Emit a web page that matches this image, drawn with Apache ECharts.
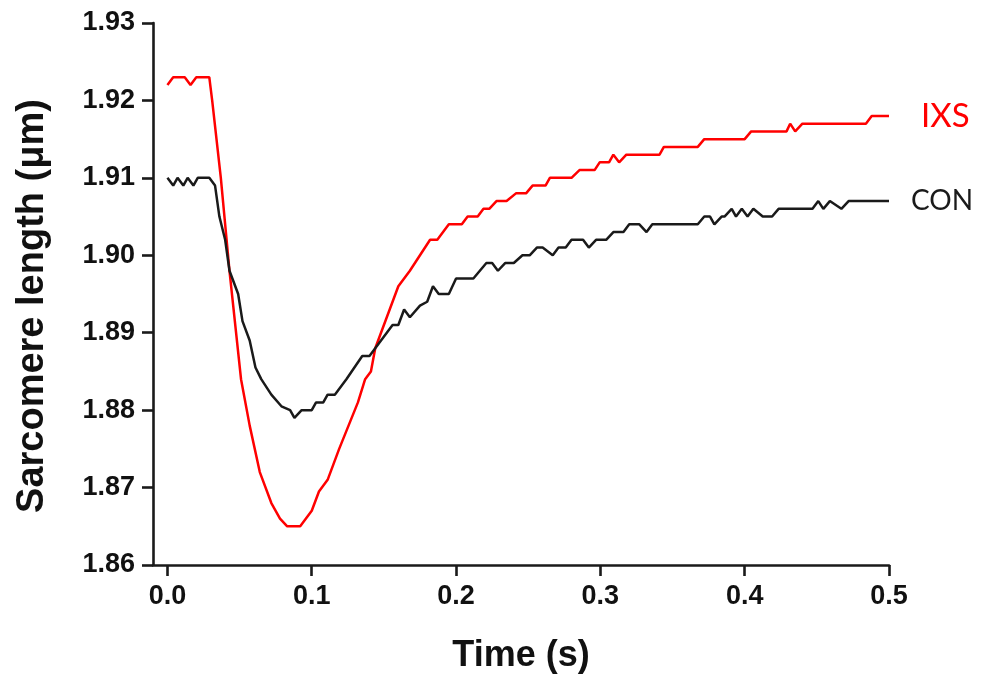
<!DOCTYPE html>
<html>
<head>
<meta charset="utf-8">
<script src="https://cdn.jsdelivr.net/npm/echarts@6/dist/echarts.min.js"></script>
<style>
html,body{margin:0;padding:0;background:#fff;}
#chart{width:984px;height:679px;}
</style>
</head>
<body>
<div id="chart"></div>
<script>
// ---- data ----
const xTicks = [0.0, 0.1, 0.2, 0.3, 0.4, 0.5];
const yTicks = [1.86, 1.87, 1.88, 1.89, 1.90, 1.91, 1.92, 1.93];

const ixsName = 'IXS';
const ixsTime = [0.000,0.004,0.012,0.016,0.020,0.029,0.031,0.037,0.043,0.051,0.057,0.064,0.072,0.078,0.083,0.092,0.100,0.105,0.111,0.119,0.132,0.137,0.141,0.144,0.160,0.168,0.182,0.187,0.195,0.204,0.208,0.215,0.219,0.223,0.228,0.235,0.2415,0.2485,0.253,0.262,0.265,0.280,0.2855,0.296,0.2995,0.306,0.309,0.313,0.318,0.341,0.344,0.3675,0.372,0.400,0.4045,0.429,0.4315,0.435,0.440,0.484,0.488,0.500];
const ixsValue = [1.922,1.923,1.923,1.922,1.923,1.923,1.920,1.910,1.898,1.884,1.878,1.872,1.868,1.866,1.865,1.865,1.867,1.8695,1.871,1.875,1.881,1.884,1.885,1.888,1.896,1.898,1.902,1.902,1.904,1.904,1.905,1.905,1.906,1.906,1.907,1.907,1.908,1.908,1.909,1.909,1.910,1.910,1.911,1.911,1.912,1.912,1.913,1.912,1.913,1.913,1.914,1.914,1.915,1.915,1.916,1.916,1.917,1.916,1.917,1.917,1.918,1.918];

const conName = 'CON';
const conTime = [0.000,0.004,0.007,0.011,0.014,0.018,0.021,0.026,0.029,0.033,0.036,0.040,0.043,0.045,0.049,0.052,0.057,0.061,0.065,0.072,0.079,0.085,0.088,0.093,0.100,0.103,0.108,0.111,0.116,0.124,0.135,0.140,0.156,0.160,0.164,0.168,0.175,0.180,0.184,0.188,0.195,0.200,0.212,0.221,0.225,0.229,0.234,0.240,0.246,0.251,0.256,0.260,0.267,0.271,0.276,0.280,0.288,0.292,0.297,0.304,0.309,0.316,0.320,0.327,0.332,0.336,0.3675,0.372,0.376,0.379,0.384,0.386,0.391,0.394,0.398,0.402,0.406,0.4125,0.419,0.4235,0.447,0.451,0.4545,0.459,0.467,0.472,0.500];
const conValue = [1.910,1.909,1.910,1.909,1.910,1.909,1.910,1.910,1.910,1.909,1.905,1.902,1.898,1.897,1.895,1.8915,1.889,1.8855,1.884,1.882,1.8805,1.880,1.879,1.880,1.880,1.881,1.881,1.882,1.882,1.884,1.887,1.887,1.891,1.891,1.893,1.892,1.8935,1.894,1.896,1.895,1.895,1.897,1.897,1.899,1.899,1.898,1.899,1.899,1.900,1.900,1.901,1.901,1.900,1.901,1.901,1.902,1.902,1.901,1.902,1.902,1.903,1.903,1.904,1.904,1.903,1.904,1.904,1.905,1.905,1.904,1.905,1.905,1.906,1.905,1.906,1.905,1.906,1.905,1.905,1.906,1.906,1.907,1.906,1.907,1.906,1.907,1.907];

// ---- build ----
const zip = (xs, ys) => xs.map((x, i) => [x, ys[i]]);
const FONT = '"Liberation Sans", Arial, sans-serif';
const axisColor = '#1a1a1a';

const chart = echarts.init(document.getElementById('chart'), null, {renderer: 'canvas'});
chart.setOption({
  animation: false,
  backgroundColor: '#ffffff',
  grid: {left: 153, right: 95, top: 23, bottom: 114, containLabel: false},
  xAxis: {
    type: 'value',
    min: -0.01,
    max: 0.5,
    name: 'Time (s)',
    nameLocation: 'middle',
    nameGap: 73,
    nameTextStyle: {fontFamily: FONT, fontWeight: 'bold', fontSize: 36, color: '#111'},
    axisLine: {onZero: false, lineStyle: {color: axisColor, width: 2.6}},
    axisTick: {show: true, inside: false, length: 11, customValues: xTicks, lineStyle: {color: axisColor, width: 2.6}},
    axisLabel: {customValues: xTicks, margin: 18, fontFamily: FONT, fontWeight: 'bold', fontSize: 27, color: '#111',
      formatter: v => Number(v).toFixed(1)},
    splitLine: {show: false}
  },
  yAxis: {
    type: 'value',
    min: 1.86,
    max: 1.93,
    interval: 0.01,
    name: 'Sarcomere length (\u03bcm)',
    nameLocation: 'middle',
    nameGap: 101,
    nameTextStyle: {fontFamily: FONT, fontWeight: 'bold', fontSize: 38, color: '#111', padding: [0, 24, 0, 0]},
    axisLine: {show: true, onZero: false, lineStyle: {color: axisColor, width: 2.6}},
    axisTick: {show: true, inside: false, length: 11, lineStyle: {color: axisColor, width: 2.6}},
    axisLabel: {margin: 18, fontFamily: FONT, fontWeight: 'bold', fontSize: 27, color: '#111',
      formatter: v => Number(v).toFixed(2)},
    splitLine: {show: false}
  },
  series: [
    {
      name: ixsName,
      type: 'line',
      data: zip(ixsTime, ixsValue),
      symbol: 'none',
      smooth: false,
      lineStyle: {color: '#ff0000', width: 2.5},
      itemStyle: {color: '#ff0000'},
      endLabel: {show: true, formatter: ixsName, distance: 32, color: '#ff0000',
        fontFamily: 'Lato, sans-serif', fontSize: 33, fontWeight: 'normal'}
    },
    {
      name: conName,
      type: 'line',
      data: zip(conTime, conValue),
      symbol: 'none',
      smooth: false,
      lineStyle: {color: '#1a1a1a', width: 2.5},
      itemStyle: {color: '#1a1a1a'},
      endLabel: {show: true, formatter: conName, distance: 22, color: '#1a1a1a',
        fontFamily: 'Lato, sans-serif', fontSize: 28, fontWeight: 'normal'}
    }
  ]
});
</script>
</body>
</html>
